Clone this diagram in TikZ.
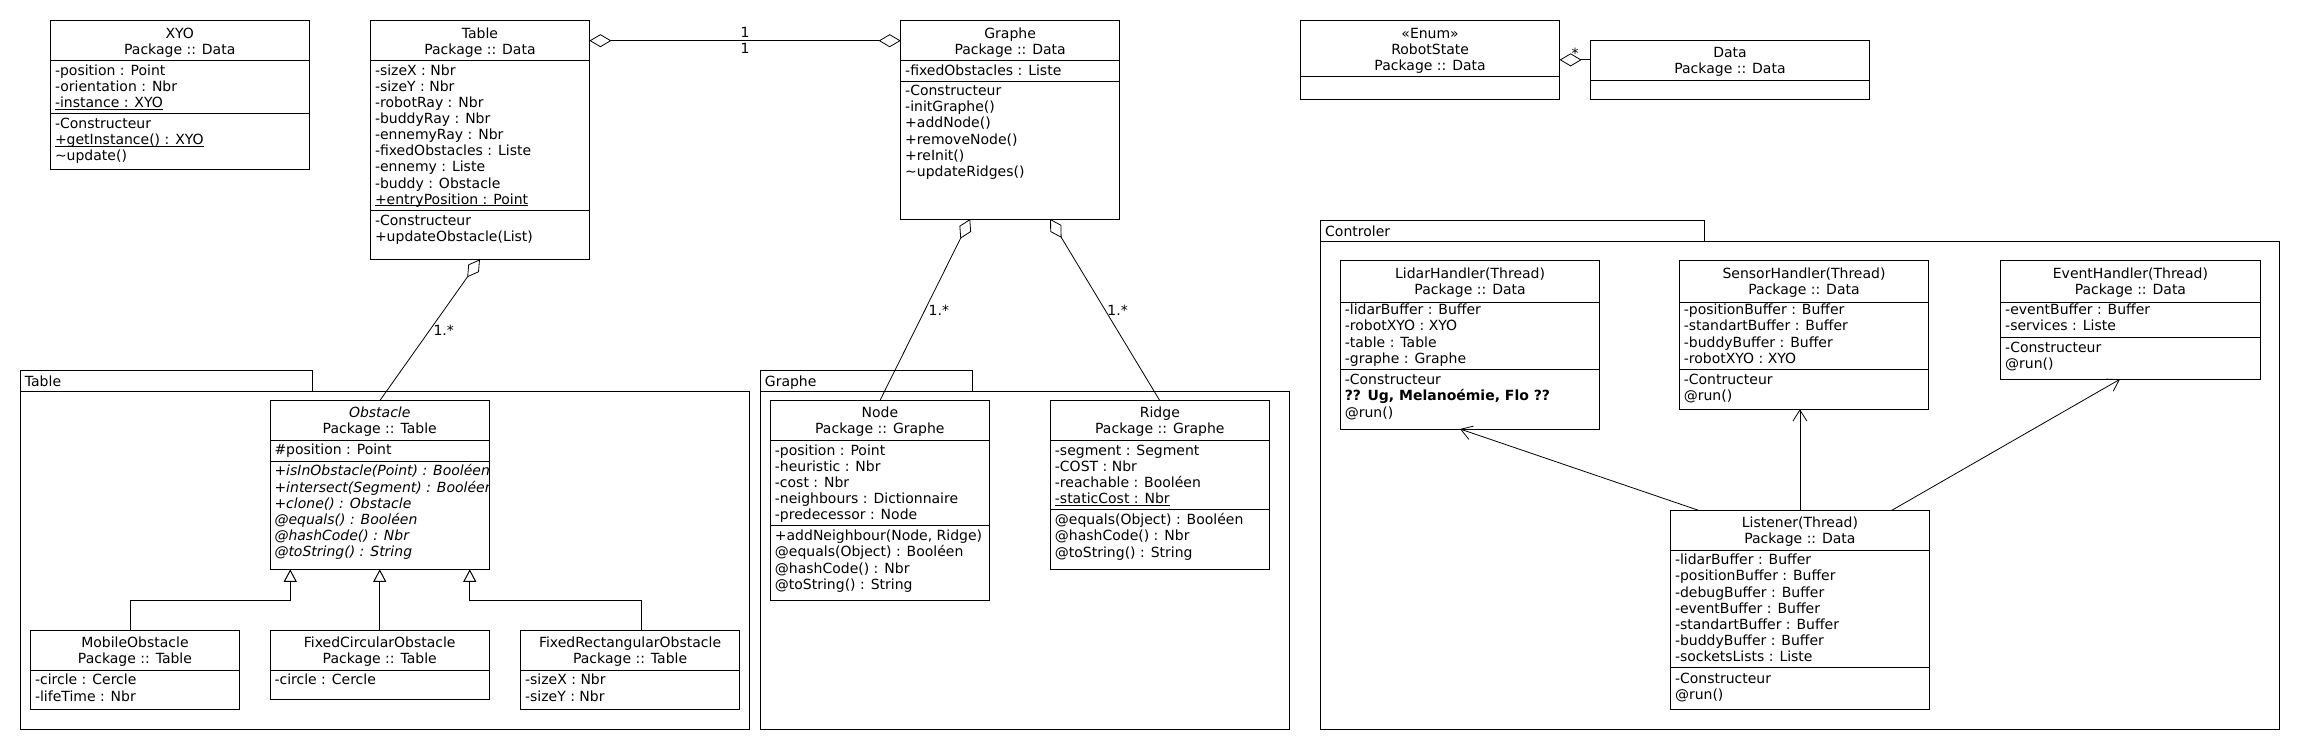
\documentclass[tikz,border=0pt]{standalone}
\usepackage{fontspec}
\setmainfont{DejaVu Sans}
\usetikzlibrary{arrows.meta}
\tikzset{
  classbox/.style={draw, anchor=north west, inner sep=0pt, outer sep=0pt},
  pkgbox/.style={draw, anchor=north west, inner sep=0pt, outer sep=0pt},
  row/.style={inner sep=0pt},
  aggr/.style={{Diamond[open,length=22pt,width=13pt]}-, line width=0.8pt},
  aggrboth/.style={{Diamond[open,length=22pt,width=13pt]}-{Diamond[open,length=22pt,width=13pt]}, line width=0.8pt},
  inherit/.style={-{Triangle[open,length=12.5pt,width=13pt]}},
  dep/.style={-{Straight Barb[length=11pt,width=14pt]}, line width=0.8pt}
}
\newcommand{\stat}[1]{\underline{\smash{#1}}} % static member, line just under the baseline
% rows of text: anchor, name, x, first baseline, rows
\newcommand{\rows}[5]{\foreach \memb [count=\i from 0] in {#5}
  {\node[row, anchor=#1] (#2\i) at ({#3},{#4+\i*16.1}) {\memb};}}
% class box: name, left, top, right, bottom, separators, header baseline, header rows
\newcommand{\umlbox}[8]{%
  \node[classbox, minimum width={(#4-#2)*1pt}, minimum height={(#5-#3)*1pt}] (#1) at (#2,#3) {};
  \foreach \ysep in {#6} {\draw (#2,\ysep) -- (#4,\ysep);}
  \rows{base}{#1h}{(#2+#4)/2}{#7}{#8}}
% package: name, left, tab top, tab right, right, bottom, label
\newcommand{\umlpkg}[7]{%
  \node[pkgbox, minimum width={(#4-#2)*1pt}, minimum height=21pt] (#1tab) at (#2,#3) {};
  \node[pkgbox, minimum width={(#5-#2)*1pt}, minimum height={(#6-#3-21)*1pt}] (#1) at (#2,#3+21) {};
  \node[row, anchor=base west] (#1name) at (#2+4,#3+15.3) {#7};}

\begin{document}
\begin{tikzpicture}[x=1pt, y=-1pt, line width=1pt, font=\fontsize{14}{16.1}\selectfont]
 \useasboundingbox[fill=white] (0,0) rectangle (2300,750);
 % packages
 \umlpkg{tablepkg}{20.4}{370.7}{312.6}{749.8}{729}{Table}
 \umlpkg{graphepkg}{760.4}{370.7}{972}{1289.3}{729}{Graphe}
 \umlpkg{ctrlpkg}{1320.7}{220.7}{1704.6}{2279}{729}{Controler}
 % top row
 \umlbox{xyo}{50.5}{20.7}{309}{169}{60.7,113.3}{38}{XYO, Package :: Data}
 \rows{base west}{xyoa}{54.5}{75.3}{-position : Point, -orientation : Nbr, \stat{-instance : XYO}}
 \rows{base west}{xyom}{54.5}{128.5}{-Constructeur, \stat{+getInstance() : XYO}, \textasciitilde update()}
 \umlbox{table}{370.5}{20.7}{589.4}{259.3}{60.7,210.7}{38}{Table, Package :: Data}
 \rows{base west}{tablea}{374.5}{75.3}{-sizeX : Nbr, -sizeY : Nbr, -robotRay : Nbr, -buddyRay : Nbr, -ennemyRay : Nbr, -fixedObstacles : Liste, -ennemy : Liste, -buddy : Obstacle, \stat{+entryPosition : Point}}
 \rows{base west}{tablem}{374.5}{225}{-Constructeur, +updateObstacle(List)}
 \umlbox{graphe}{900.7}{20.7}{1119.6}{219}{60.7,81.3}{38}{Graphe, Package :: Data}
 \rows{base west}{graphea}{904.7}{75.3}{-fixedObstacles : Liste}
 \rows{base west}{graphem}{904.7}{95.7}{-Constructeur, -initGraphe(), +addNode(), +removeNode(), +reInit(), \textasciitilde updateRidges()}
 \umlbox{robotstate}{1300.6}{20.7}{1559.6}{99}{76.3}{38}{«Enum», RobotState, Package :: Data}
 \umlbox{data}{1590.4}{40.7}{1869.5}{99}{80}{57.3}{Data, Package :: Data}
 % package Table
 \umlbox{obstacle}{270}{400.7}{489.5}{569.3}{440.3,461.3}{417.4}{\textit{Obstacle}, Package :: Table}
 \rows{base west}{obstaclea}{274}{454.9}{\#position : Point}
 \begin{scope}
  \clip (obstacle.north west) rectangle (obstacle.south east); % long rows are cut at the border
  \rows{base west}{obstaclem}{274}{475.9}{\textit{+isInObstacle(Point) : Booléen}, \textit{+intersect(Segment) : Booléen}, \textit{+clone() : Obstacle}, \textit{@equals() : Booléen}, \textit{@hashCode() : Nbr}, \textit{@toString() : String}}
 \end{scope}
 \umlbox{mobile}{30.5}{630.3}{239.4}{709}{670.3}{647.3}{MobileObstacle, Package :: Table}
 \rows{base west}{mobilea}{34.5}{684.9}{-circle : Cercle, -lifeTime : Nbr}
 \umlbox{circular}{270}{630.3}{489.5}{699.3}{670.3}{647.3}{FixedCircularObstacle, Package :: Table}
 \rows{base west}{circulara}{274}{684.9}{-circle : Cercle}
 \umlbox{rectangular}{520.6}{630.3}{739.6}{709}{670.3}{647.3}{FixedRectangularObstacle, Package :: Table}
 \rows{base west}{rectangulara}{524.6}{684.9}{-sizeX : Nbr, -sizeY : Nbr}
 % package Graphe
 \umlbox{gnode}{770.4}{400.7}{989.3}{600}{440.7,525.5}{417.8}{Node, Package :: Graphe}
 \rows{base west}{gnodea}{774.4}{455.1}{-position : Point, -heuristic : Nbr, -cost : Nbr, -neighbours : Dictionnaire, -predecessor : Node}
 \rows{base west}{gnodem}{774.4}{540.8}{{+addNeighbour(Node, Ridge)}, @equals(Object) : Booléen, @hashCode() : Nbr, @toString() : String}
 \umlbox{ridge}{1050.4}{400.7}{1269.3}{569.7}{440.7,509.7}{417.8}{Ridge, Package :: Graphe}
 \rows{base west}{ridgea}{1054.4}{455.1}{-segment : Segment, -COST : Nbr, -reachable : Booléen, \stat{-staticCost : Nbr}}
 \rows{base west}{ridgem}{1054.4}{524.8}{@equals(Object) : Booléen, @hashCode() : Nbr, @toString() : String}
 % package Controler
 \umlbox{lidar}{1340.3}{260.7}{1599.8}{429}{302.3,369.3}{278.3}{LidarHandler(Thread), Package :: Data}
 \rows{base west}{lidara}{1344.3}{314.8}{-lidarBuffer : Buffer, -robotXYO : XYO, -table : Table, -graphe : Graphe}
 \rows{base west}{lidarm}{1344.3}{384.8}{-Constructeur, {\textbf{?? Ug, Melanoémie, Flo ??}}, @run()}
 \umlbox{sensor}{1679.3}{260.7}{1928.7}{409.3}{302.3,369.3}{278.3}{SensorHandler(Thread), Package :: Data}
 \rows{base west}{sensora}{1683.3}{314.8}{-positionBuffer : Buffer, -standartBuffer : Buffer, -buddyBuffer : Buffer, -robotXYO : XYO}
 \rows{base west}{sensorm}{1683.3}{384.8}{-Contructeur, @run()}
 \umlbox{event}{2000.7}{260.7}{2260.1}{379.3}{302.3,337.3}{278.3}{EventHandler(Thread), Package :: Data}
 \rows{base west}{eventa}{2004.7}{314.8}{-eventBuffer : Buffer, -services : Liste}
 \rows{base west}{eventm}{2004.7}{352}{-Constructeur, @run()}
 \umlbox{listener}{1670.5}{510.3}{1929.3}{709.3}{550.3,667.7}{527.4}{Listener(Thread), Package :: Data}
 \rows{base west}{listenera}{1674.5}{564.8}{-lidarBuffer : Buffer, -positionBuffer : Buffer, -debugBuffer : Buffer, -eventBuffer : Buffer, -standartBuffer : Buffer, -buddyBuffer : Buffer, -socketsLists : Liste}
 \rows{base west}{listenerm}{1674.5}{683.1}{-Constructeur, @run()}
 % aggregations
 \draw[aggrboth] ([yshift=-20pt]table.north east) -- ([yshift=-20pt]graphe.north west)
   node[midway, above, inner sep=3pt] (tg1) {1} node[midway, below, inner sep=2pt] (tg2) {1};
 \draw[aggr] (robotstate.east) -- (robotstate.east -| data.west) node[midway, above, inner sep=1pt] (rsmult) {*};
 \draw[aggr] (table.south) -- (obstacle.north) node[midway, right] (tomult) {1.*};
 \draw[aggr] ([xshift=-40pt]graphe.south) -- (gnode.north) node[midway, right] (gnmult) {1.*};
 \draw[aggr] ([xshift=40pt]graphe.south) -- (ridge.north) node[midway, right, inner sep=2pt] (grmult) {1.*};
 % inheritance
 \draw[inherit] ([xshift=-4.7pt]mobile.north) -- ++(0,-30.3) -| ([xshift=-89.5pt]obstacle.south);
 \draw[inherit] (circular.north) -- (obstacle.south);
 \draw[inherit] ([xshift=11pt]rectangular.north) -- ++(0,-30.3) -| ([xshift=90pt]obstacle.south);
 % listener links
 \draw[dep] ([xshift=28pt]listener.north west) -- ([xshift=-10pt]lidar.south);
 \draw[dep] (listener.north) -- (listener.north |- sensor.south);
 \draw[dep] ([xshift=-37.5pt]listener.north east) -- ([xshift=-10.5pt]event.south);
\end{tikzpicture}
\end{document}
